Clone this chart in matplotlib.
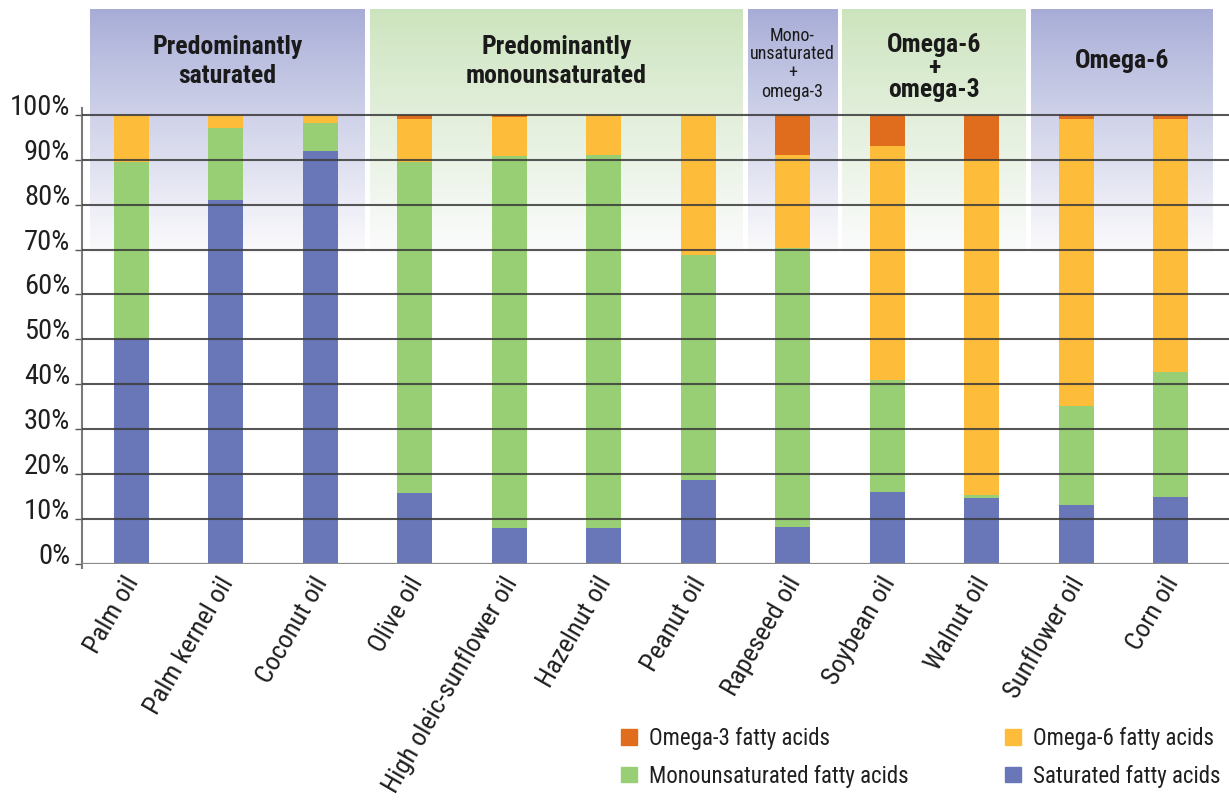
import os
import numpy as np
import matplotlib
matplotlib.use("Agg")
import matplotlib.pyplot as plt
from matplotlib import font_manager
from matplotlib.font_manager import FontProperties
from matplotlib.patches import Patch
from matplotlib.colors import to_rgb

# ---- data -------------------------------------------------------------
oils = ["Palm oil", "Palm kernel oil", "Coconut oil", "Olive oil",
        "High oleic-sunflower oil", "Hazelnut oil", "Peanut oil",
        "Rapeseed oil", "Soybean oil", "Walnut oil", "Sunflower oil", "Corn oil"]
saturated = [50.0, 81.0, 92.0, 15.7, 8.0, 8.0, 18.7, 8.2, 15.9, 14.7, 13.1, 14.9]
monounsaturated = [39.6, 16.2, 6.2, 73.9, 82.9, 83.1, 50.0, 62.2, 25.1, 0.7, 22.1, 27.9]
omega6 = [10.4, 2.8, 1.8, 9.5, 8.7, 8.9, 31.3, 20.7, 52.0, 74.6, 63.9, 56.2]
omega3 = [0.0, 0.0, 0.0, 0.9, 0.4, 0.0, 0.0, 8.9, 7.0, 10.0, 0.9, 1.0]

series_names = ["Saturated fatty acids", "Monounsaturated fatty acids",
                "Omega-6 fatty acids", "Omega-3 fatty acids"]
yticks = [0, 10, 20, 30, 40, 50, 60, 70, 80, 90, 100]
ytick_labels = [f"{v}%" for v in yticks]

group_titles = ["Predominantly\nsaturated",
                "Predominantly\nmonounsaturated",
                "Mono-\nunsaturated\n+\nomega-3",
                "Omega-6\n+\nomega-3",
                "Omega-6"]
group_spans = [(0, 2), (3, 6), (7, 7), (8, 9), (10, 11)]

# ---- style ------------------------------------------------------------
C_SAT = "#6977b8"
C_MONO = "#98ce74"
C_O6 = "#fdbd3b"
C_O3 = "#df6d1d"
PANEL_PURPLE = "#a7acd7"
PANEL_GREEN = "#cce4bd"
panel_colors = [PANEL_PURPLE, PANEL_GREEN, PANEL_PURPLE, PANEL_GREEN, PANEL_PURPLE]
# header text: last-line baseline (px from top), line pitch (px), size, bold
header_layout = [(83, 30, 18.5, True), (83, 30, 18.5, True),
                 (97, 19, 13.0, False), (97, 22, 18.5, True), (68, 0, 18.5, True)]


def _weight_num(w):
    if isinstance(w, (int, float)):
        return int(w)
    table = {"normal": 400, "regular": 400, "book": 400, "medium": 500,
             "semibold": 600, "demibold": 600, "bold": 700, "heavy": 800,
             "black": 900, "light": 300}
    return table.get(str(w).lower(), 400)


def condensed_font(bold):
    """Pick a narrow sans-serif face from the installed fonts."""
    prefs = ["liberation sans narrow", "arial narrow", "roboto condensed",
             "noto sans", "open sans", "dejavu sans", "lato", "inter"]
    target = 700 if bold else 400
    best = None
    for f in font_manager.fontManager.ttflist:
        fn = os.path.basename(f.fname).lower()
        nm = f.name.lower()
        narrow = ("narrow" in fn or "condensed" in fn or "narrow" in nm
                  or "condensed" in nm or f.stretch in ("condensed", "semi-condensed"))
        if not narrow:
            continue
        if any(k in fn for k in ("italic", "oblique", "mono", "serif", "extra", "semi", "ultra")):
            continue
        if f.style != "normal":
            continue
        fam_rank = next((i for i, p in enumerate(prefs) if nm.startswith(p)), len(prefs))
        score = (fam_rank, abs(_weight_num(f.weight) - target))
        if best is None or score < best[0]:
            best = (score, f.fname)
    return best[1] if best else None


reg_file = condensed_font(False)
bold_file = condensed_font(True)
if reg_file:
    FP_REG = FontProperties(fname=reg_file)
    FP_BOLD = FontProperties(fname=bold_file or reg_file)
    if not bold_file:
        FP_BOLD.set_weight("bold")
    SCALE = 1.0
else:
    FP_REG = FontProperties(family="Liberation Sans")
    FP_BOLD = FontProperties(family="Liberation Sans", weight="bold")
    SCALE = 0.84


def fp(base, size):
    p = base.copy()
    p.set_size(size * SCALE)
    return p


W, H = 1229, 805
fig = plt.figure(figsize=(W / 100, H / 100), dpi=100)
fig.patch.set_facecolor("white")
renderer = fig.canvas.get_renderer()

# pixel geometry of the plotting frame
x_axis_px = 82
y0_px, y100_px = 563.7, 115.0
px_per_pct = (y0_px - y100_px) / 100.0
x0_px, step_px = 131.0, 94.5

ax = fig.add_axes([x_axis_px / W, (H - y0_px) / H, 1 - x_axis_px / W, y0_px / H])
ax.set_facecolor("none")
ytop = y0_px / px_per_pct
xl = (x_axis_px - x0_px) / step_px
xr = (W - x0_px) / step_px


def ydat(py):
    return (y0_px - py) / px_per_pct


# ---- gradient header panels --------------------------------------------
panel_top, panel_bot = ydat(9), ydat(253)
gap = 0.027
for gi, (a, b) in enumerate(group_spans):
    left = -0.434 if a == 0 else a - 0.5 + gap
    right = 11.45 if b == len(oils) - 1 else b + 0.5 - gap
    top_rgb = np.array(to_rgb(panel_colors[gi]))
    t = np.linspace(0, 1, 256)[:, None]
    shade = t ** 0.9
    rgb = top_rgb[None, :] * (1 - shade) + np.array([0.985, 0.985, 0.99])[None, :] * shade
    ax.imshow(rgb[:, None, :], extent=[left, right, panel_bot, panel_top], aspect="auto",
              interpolation="bilinear", zorder=0, origin="upper")

    base_px, pitch_px, size, bold = header_layout[gi]
    prop = fp(FP_BOLD if bold else FP_REG, size)
    _, lp_h, _ = renderer.get_text_width_height_descent("lp", prop, ismath=False)
    spacing = pitch_px / lp_h if pitch_px else 1.2
    ax.text((left + right) / 2, ydat(base_px), group_titles[gi], ha="center",
            va="baseline", multialignment="center", linespacing=spacing,
            fontproperties=prop, color="#1a1a1a", zorder=2)

# ---- stacked bars -------------------------------------------------------
x = np.arange(len(oils))
bw = 35 / step_px
sat = np.array(saturated)
mono = np.array(monounsaturated)
o6 = np.array(omega6)
o3 = np.array(omega3)
ax.bar(x, sat, bw, color=C_SAT, zorder=1, label=series_names[0])
ax.bar(x, mono, bw, bottom=sat, color=C_MONO, zorder=1, label=series_names[1])
ax.bar(x, o6, bw, bottom=sat + mono, color=C_O6, zorder=1, label=series_names[2])
ax.bar(x, o3, bw, bottom=sat + mono + o6, color=C_O3, zorder=1, label=series_names[3])

# ---- horizontal rules --------------------------------------------------
ax.hlines([v for v in yticks if v > 0], xl, xr, colors="#3a3a3a", linewidth=1.5,
          alpha=0.85, zorder=3)
ax.hlines([0], xl, xr, colors="#8a8a8a", linewidth=1.6, zorder=3)

ax.set_xlim(xl, xr)
ax.set_ylim(0, ytop)
for s in ["top", "right", "bottom"]:
    ax.spines[s].set_visible(False)
ax.spines["left"].set_bounds(-1.0, 101.5)
ax.spines["left"].set_color("#7a7a7a")
ax.spines["left"].set_linewidth(1.5)

ax.set_yticks(yticks)
ax.set_yticklabels(ytick_labels)
ax.tick_params(axis="y", length=5, width=1.0, color="#555555", pad=3.5,
               labelcolor="#1f1f1f")
for lab in ax.get_yticklabels():
    lab.set_fontproperties(fp(FP_REG, 20.5))
    lab.set_verticalalignment("baseline")
ax.set_xticks([])

# category labels below the axis
for xi, name in zip(x, oils):
    ax.text(xi + 13 / step_px, ydat(y0_px + 9), name, rotation=60,
            ha="right", va="top", fontproperties=fp(FP_REG, 19),
            color="#1f1f1f", zorder=4, clip_on=False)

# ---- legend (two columns) ----------------------------------------------
leg_kw = dict(frameon=False, prop=fp(FP_REG, 16.5), handlelength=0.68, handleheight=0.65,
              handletextpad=0.55, labelspacing=0.65, borderpad=0, borderaxespad=0,
              loc="upper left", labelcolor="#1f1f1f")
fig.legend(handles=[Patch(color=C_O3), Patch(color=C_MONO)],
           labels=[series_names[3], series_names[1]],
           bbox_to_anchor=(621 / W, 1 - 727 / H), **leg_kw)
fig.legend(handles=[Patch(color=C_O6), Patch(color=C_SAT)],
           labels=[series_names[2], series_names[0]],
           bbox_to_anchor=(1005 / W, 1 - 727 / H), **leg_kw)

fig.savefig("out.png", dpi=100)
